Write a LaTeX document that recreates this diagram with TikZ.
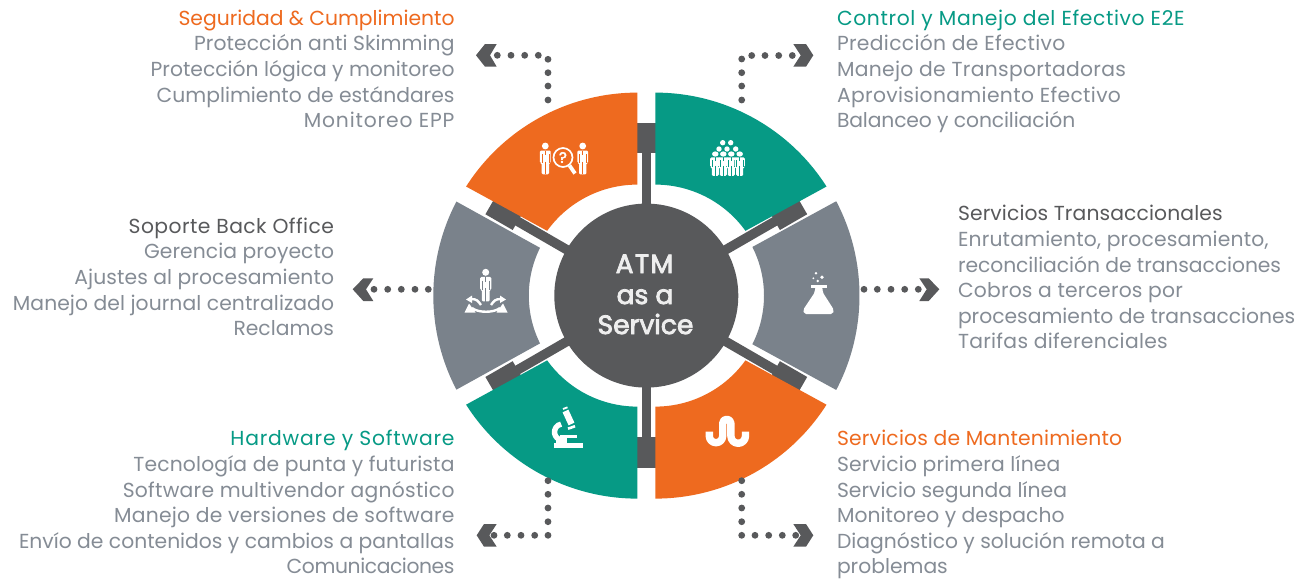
\documentclass[tikz,border=0pt]{standalone}
\usepackage{fontspec}
\setmainfont{Poppins}
\newfontfamily\cfont[FakeBold=3]{Poppins}
\definecolor{cor}{HTML}{EE6A1F}
\definecolor{tea}{HTML}{069A85}
\definecolor{gry}{HTML}{7A828B}
\definecolor{drk}{HTML}{58595B}
\definecolor{txt}{HTML}{858C95}
\definecolor{ctr}{HTML}{EEEEEE}
\newcommand{\fs}{\fontsize{20.3}{24}\selectfont}
\newcommand{\ls}[1]{\addfontfeature{LetterSpace=#1}}
\tikzset{
 lbl/.style={inner sep=0pt,outer sep=0pt,font=\fs},
 lw/.style={lbl,anchor=base west},
 le/.style={lbl,anchor=base east},
 spoke/.style={draw=drk,line width=9.5pt},
 block/.style={draw=drk,line width=20pt},
 chev/.style={fill=drk},
 ctxt/.style={inner sep=0pt,text=ctr,font=\cfont\fontsize{26.5}{30}\selectfont,anchor=base},
}
% wedge: colour, centre x, outer start, outer end, R, inner start, inner end, r
\newcommand{\wedgeshape}[8]{%
 \fill[#1] ([shift={(#3:#5pt)}]#2,295.6) arc[start angle=#3,end angle=#4,radius=#5pt]
   -- ([shift={(#6:#8pt)}]#2,295.6) arc[start angle=#6,end angle=#7,radius=#8pt] -- cycle;}
% person: x,y of head, scaling options, background colour
\newcommand{\persona}[4]{%
 \begin{scope}[shift={(#1,#2)},#3]
  \fill[white] (0,0) circle[radius=3.4];
  \fill[white,rounded corners=1.2pt] (-5.4,17) -- (-5.4,4.5) -- (5.4,4.5) -- (5.4,17) -- (3.7,17) -- (3.7,28.3) -- (-3.7,28.3) -- (-3.7,17) -- cycle;
  \draw[#4,line width=.5pt] (0,15.5) -- (0,28.4) (-3.5,8) -- (-3.5,17.2) (3.5,8) -- (3.5,17.2) (0,4.5) -- (0,9);
 \end{scope}}
\begin{document}
\begin{tikzpicture}[x=1pt,y=-1pt]
\useasboundingbox (0,0) rectangle (1307,579);
\fill[white] (0,0) rectangle (1307,579);
\coordinate (c) at (646.3,295.6);
% spokes
\foreach \a in {30,90,150,210,270,330}{
  \draw[spoke] (c) -- ([shift={(\a:155pt)}]c);
}
\foreach \a in {30,150,210,330}{
  \draw[block] ([shift={(\a:148.5pt)}]c) -- ([shift={(\a:180pt)}]c);
}
\fill[drk] (637,122.7) rectangle (655.6,153);
\fill[drk] (637,437.3) rectangle (655.6,467.7);
% wedges
\wedgeshape{cor}{637.3}{90}{147.5}{203}{144.3}{90}{111}
\wedgeshape{tea}{655.3}{90}{32.5}{203}{35.7}{90}{111}
\wedgeshape{tea}{637.3}{270}{212.5}{203}{215.7}{270}{111}
\wedgeshape{cor}{655.3}{270}{327.5}{203}{324.3}{270}{111}
\wedgeshape{gry}{636.3}{152.4}{207.6}{203}{206.4}{153.6}{107.5}
\wedgeshape{gry}{656.5}{27.7}{-27.7}{203}{-26.9}{26.9}{107.5}
% hub
\node[circle,fill=drk,minimum size=184pt,inner sep=0pt] (hub) at (c) {};
\node[ctxt] (t1) at (644.5,273) {\ls{5}ATM};
\node[ctxt] (t2) at (645,304) {as a};
\node[ctxt] (t3) at (645.5,334) {Service};
% dots
\foreach \x/\y in {497.3/55.3,511/55.3,524.7/55.3,538.3/55.3,548/59.3,548/72.7,548/86,548/100,
 751.7/55.5,765/55.5,778.7/55.5,792.3/55.5,741.7/59,741.7/72.7,741.7/86,741.7/100,
 374/289.3,387.7/289.3,401.3/289.3,415/289.3,428.3/289.3,
 864/289.3,877.3/289.3,891/289.3,904.7/289.3,918.3/289.3,
 548/480.7,548/494.3,548/508,548/521.7,548/535.3,534.7/535.3,521/535.3,507.3/535.3,494/535.3,
 741.7/480.7,741.7/494.3,741.7/508,741.7/521.7,741.7/535.3,755/535.3,768.7/535.3,782.3/535.3,795.7/535.3}{
  \fill[drk] (\x,\y) circle[radius=3.4];
}
% chevrons
\fill[chev] (476,55.3) -- (485,44) -- (496.7,44) -- (490,55.3) -- (496.7,66.7) -- (485,66.7) -- cycle;
\fill[chev] (813.3,55.3) -- (806,44) -- (793.3,44) -- (800.7,55.3) -- (793.3,66.7) -- (806,66.7) -- cycle;
\fill[chev] (352.7,289.3) -- (363.3,278.3) -- (373.3,278.3) -- (366,289.3) -- (373.3,301) -- (363.3,301) -- cycle;
\fill[chev] (939.3,289.3) -- (928.7,278.3) -- (919.3,278.3) -- (926.7,289.3) -- (919.3,301) -- (928.7,301) -- cycle;
\fill[chev] (476.7,535.3) -- (484,524) -- (496.7,524) -- (489.3,535.3) -- (496.7,546.7) -- (484,546.7) -- cycle;
\fill[chev] (813.3,535.3) -- (806,524) -- (793.3,524) -- (800.7,535.3) -- (793.3,546.7) -- (806,546.7) -- cycle;
% icon: people and magnifier
\persona{545.3}{146}{scale=1}{cor}
\persona{582.7}{146}{scale=1}{cor}
\draw[white,line width=1.7pt] (563,157.5) circle[radius=9.5];
\draw[white,line width=3.8pt] (569.5,165.5) -- (575,173.5);
\node[inner sep=0pt,text=white,font=\cfont\fontsize{15}{15}\selectfont] (q) at (563,157.5) {?};
% icon: crowd
\foreach \x/\y in {722.7/142.7,730.7/142.7,719/149,727/149,735.7/149}{
  \fill[white] (\x,\y) circle[radius=2.7];}
\foreach \x in {715.3,723.3,731.3,739.7}{\persona{\x}{154}{xscale=.95,yscale=.77}{tea}}
% icon: person with arrows
\persona{485.7}{272.3}{scale=1.03}{gry}
\fill[white] (464.5,312.5) -- (469,303.5) -- (475.5,312.5) -- cycle;
\fill[white] (507.5,312.5) -- (503,303.5) -- (496.5,312.5) -- cycle;
\draw[white,line width=2.4pt] (472,308) .. controls (478,313) and (494,313) .. (500,308);
\draw[white,line width=2.4pt] (481,305) .. controls (478,301) and (477,299) .. (471,299);
\draw[white,line width=2.4pt] (491,305) .. controls (494,301) and (495,299) .. (501,299);
\fill[white] (466,299.5) -- (472,295.5) -- (472,303) -- cycle;
\fill[white] (506,299.5) -- (500,295.5) -- (500,303) -- cycle;
% icon: flask
\fill[white] (811,284.7) rectangle (826.7,288.3);
\fill[white,rounded corners=2pt] (815,287) -- (815,292) -- (803,310) -- (804,314) -- (833,314) -- (834,310) -- (822.5,292) -- (822.5,287) -- cycle;
\fill[white] (816,273.3) circle[radius=1.4] (822,277.3) circle[radius=1.9] (817.7,281) circle[radius=1.4] (813.3,278.3) circle[radius=1];
% icon: microscope
\fill[white] (554,443.3) rectangle (582.7,448.3);
\draw[white,line width=5.4pt] ([shift={(100:8pt)}]562.5,432) arc[start angle=100,end angle=262,radius=8pt];
\fill[white] (560,434.8) rectangle (577.3,438.3);
\fill[white] (556,438) rectangle (567,444);
\draw[white,line width=6.4pt] (565.5,411) -- (571.5,424);
\draw[white,line width=1.8pt] (563,409) -- (567.5,407.3);
\draw[white,line width=2.6pt] (568,428.7) -- (575,426.2);
% icon: stumbleupon
\draw[white,line width=7.4pt,line join=round] (709.3,431.7) -- (709.3,436) arc[start angle=180,end angle=360,radius=6.7pt] -- (722.7,423.3) arc[start angle=180,end angle=0,radius=4.1pt] -- (730.9,436) arc[start angle=180,end angle=360,radius=7.3pt] -- (745.5,431.7);
% texts
\node[le,text=cor] (a0) at (454.5,25) {Seguridad \& Cumplimiento};
\node[le,text=txt] (a1) at (454.5,50.5) {\ls{.4}Protección anti Skimming};
\node[le,text=txt] (a2) at (454.5,76.5) {Protección lógica y monitoreo};
\node[le,text=txt] (a3) at (454.5,102) {Cumplimiento de estándares};
\node[le,text=txt] (a4) at (454.5,127) {\ls{4.2}Monitoreo EPP};
\node[lw,text=tea] (b0) at (837,25) {\ls{3.1}Control y Manejo del Efectivo E2E};
\node[lw,text=txt] (b1) at (837,50.5) {\ls{1.6}Predicción de Efectivo};
\node[lw,text=txt] (b2) at (837,76.5) {\ls{1.6}Manejo de Transportadoras};
\node[lw,text=txt] (b3) at (837,102) {\ls{1.7}Aprovisionamiento Efectivo};
\node[lw,text=txt] (b4) at (837,127) {\ls{-.6}Balanceo y conciliación};
\node[lw,text=drk] (c0) at (958,220) {\ls{.6}Servicios Transaccionales};
\node[lw,text=txt] (c1) at (958,246.5) {\ls{.9}Enrutamiento, procesamiento,};
\node[lw,text=txt] (c2) at (958,272) {\ls{-.3}reconciliación de transacciones};
\node[lw,text=txt] (c3) at (958,297.5) {\ls{1}Cobros a terceros por};
\node[lw,text=txt] (c4) at (958,323) {procesamiento de transacciones};
\node[lw,text=txt] (c5) at (958,348.5) {\ls{1.5}Tarifas diferenciales};
\node[le,text=drk] (d0) at (334,233) {\ls{2.2}Soporte Back Office};
\node[le,text=txt] (d1) at (334,258.5) {\ls{.3}Gerencia proyecto};
\node[le,text=txt] (d2) at (334,284) {\ls{.4}Ajustes al procesamiento};
\node[le,text=txt] (d3) at (334,310) {\ls{.4}Manejo del journal centralizado};
\node[le,text=txt] (d4) at (334,335) {Reclamos};
\node[le,text=tea] (e0) at (454.5,445) {\ls{3.9}Hardware y Software};
\node[le,text=txt] (e1) at (454.5,471.5) {\ls{.8}Tecnología de punta y futurista};
\node[le,text=txt] (e2) at (454.5,497) {\ls{1.3}Software multivendor agnóstico};
\node[le,text=txt] (e3) at (454.5,522.5) {\ls{1.3}Manejo de versiones de software};
\node[le,text=txt] (e4) at (454.5,548) {Envío de contenidos y cambios a pantallas};
\node[le,text=txt] (e5) at (454.5,573.5) {\ls{-2}Comunicaciones};
\node[lw,text=cor] (f0) at (837,445) {\ls{1}Servicios de Mantenimiento};
\node[lw,text=txt] (f1) at (837,471.5) {\ls{.9}Servicio primera línea};
\node[lw,text=txt] (f2) at (837,497) {\ls{.2}Servicio segunda línea};
\node[lw,text=txt] (f3) at (837,522.5) {\ls{.2}Monitoreo y despacho};
\node[lw,text=txt] (f4) at (837,548) {Diagnóstico y solución remota a};
\node[lw,text=txt] (f5) at (837,573.5) {problemas};
\end{tikzpicture}
\end{document}
